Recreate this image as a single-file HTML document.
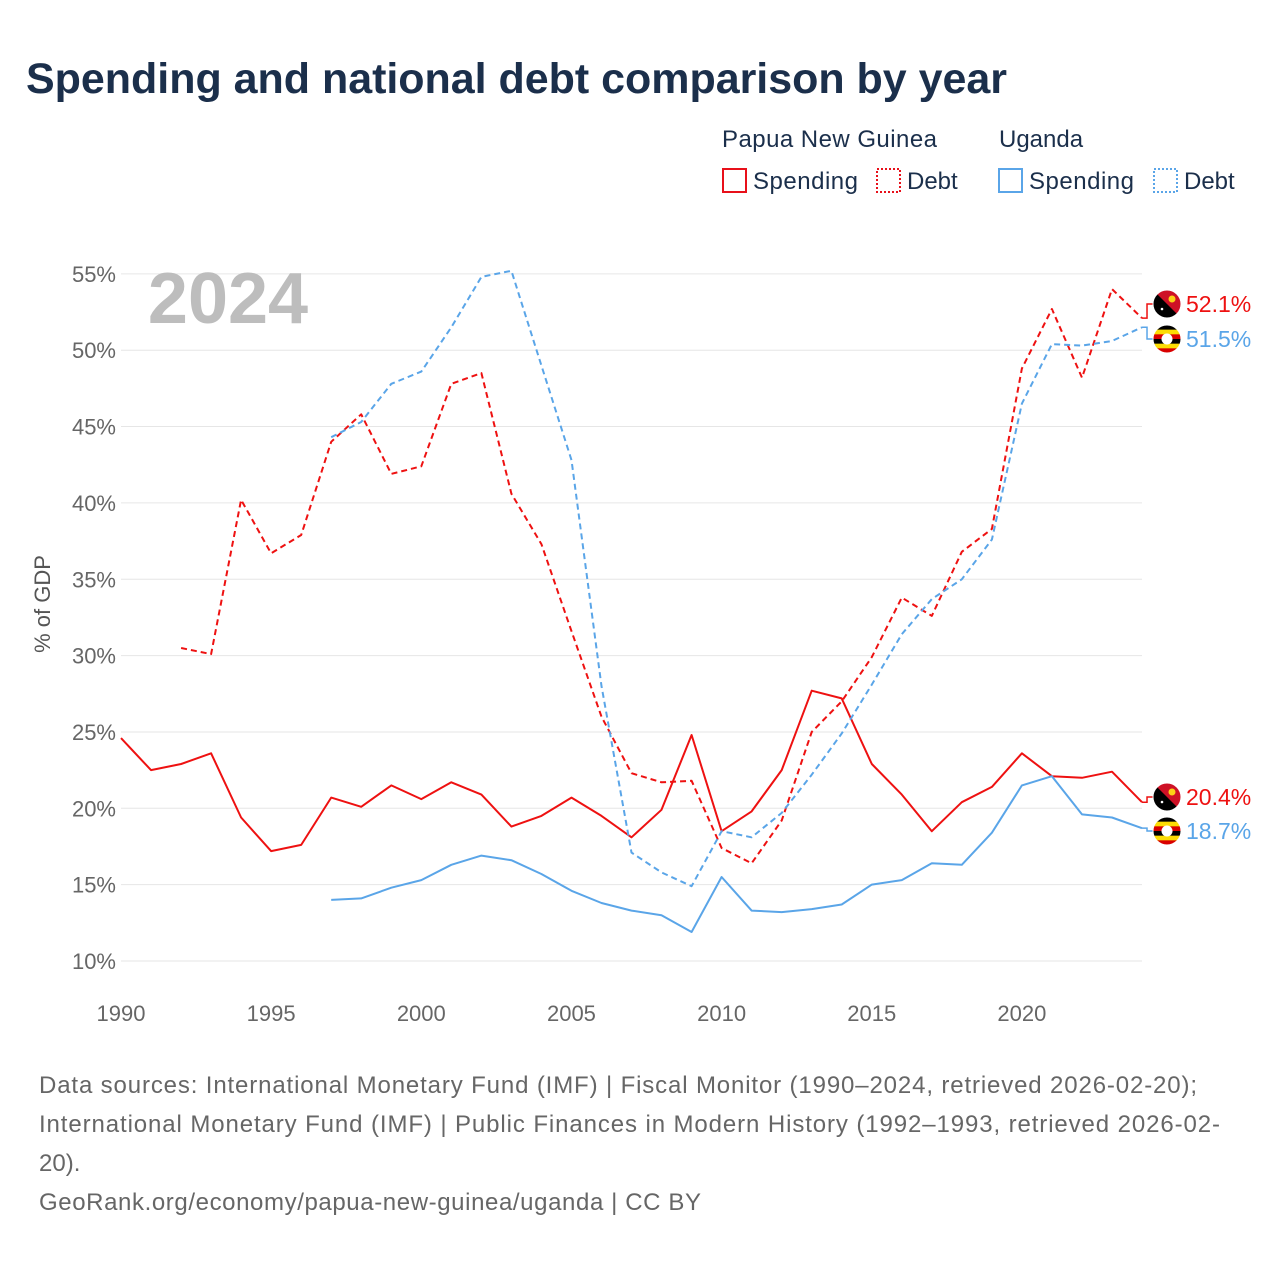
<!DOCTYPE html>
<html><head><meta charset="utf-8">
<style>
body{margin:0;background:#fff;width:1280px;height:1280px;overflow:hidden;font-family:"Liberation Sans",sans-serif}
svg text{font-family:"Liberation Sans",sans-serif}
</style></head>
<body>
<svg id="chart" width="1280" height="1280" viewBox="0 0 1280 1280">
<text x="26" y="93" font-size="43" font-weight="bold" fill="#1b2f4b" textLength="981">Spending and national debt comparison by year</text>
<g font-size="24" fill="#1b2f4b">
<text x="722" y="147" fill="#1b2f4b" textLength="215">Papua New Guinea</text>
<text x="999" y="147" fill="#1b2f4b">Uganda</text>
<g><rect x="723" y="169" width="23" height="23" fill="none" stroke="#e8101a" stroke-width="2"/><text x="753" y="189" fill="#1b2f4b" textLength="105">Spending</text></g>
<g><rect x="877" y="169" width="23" height="23" fill="none" stroke="#e8101a" stroke-width="2" stroke-dasharray="2,2"/><text x="907" y="189" fill="#1b2f4b">Debt</text></g>
<g><rect x="999" y="169" width="23" height="23" fill="none" stroke="#5aa5e8" stroke-width="2"/><text x="1029" y="189" fill="#1b2f4b" textLength="105">Spending</text></g>
<g><rect x="1154" y="169" width="23" height="23" fill="none" stroke="#5aa5e8" stroke-width="2" stroke-dasharray="2,2"/><text x="1184" y="189" fill="#1b2f4b">Debt</text></g>
</g>
<g id="grid"></g>
<g id="yticks"></g>
<g id="xticks"></g>
<text x="228" y="323" font-size="72" font-weight="bold" fill="#bdbdbd" text-anchor="middle">2024</text>
<text transform="translate(50,604) rotate(-90)" font-size="22" fill="#555" text-anchor="middle">% of GDP</text>
<g id="series"></g>
<g id="endlabels"></g>
<g font-size="24" fill="#666">
<text x="39" y="1093" textLength="1158">Data sources: International Monetary Fund (IMF) | Fiscal Monitor (1990–2024, retrieved 2026-02-20);</text>
<text x="39" y="1132" textLength="1181">International Monetary Fund (IMF) | Public Finances in Modern History (1992–1993, retrieved 2026-02-</text>
<text x="39" y="1171">20).</text>
<text x="39" y="1210" textLength="662">GeoRank.org/economy/papua-new-guinea/uganda | CC BY</text>
</g>
</svg>
<script>
const yTicks=[10,15,20,25,30,35,40,45,50,55];
const xTicks=[1990,1995,2000,2005,2010,2015,2020];
const pngSpendYears=[1990,1991,1992,1993,1994,1995,1996,1997,1998,1999,2000,2001,2002,2003,2004,2005,2006,2007,2008,2009,2010,2011,2012,2013,2014,2015,2016,2017,2018,2019,2020,2021,2022,2023,2024];
const pngSpend=[24.6,22.5,22.9,23.6,19.4,17.2,17.6,20.7,20.1,21.5,20.6,21.7,20.9,18.8,19.5,20.7,19.5,18.1,19.9,24.8,18.5,19.8,22.5,27.7,27.2,22.9,20.9,18.5,20.4,21.4,23.6,22.1,22.0,22.4,20.4];
const pngDebtYears=[1992,1993,1994,1995,1996,1997,1998,1999,2000,2001,2002,2003,2004,2005,2006,2007,2008,2009,2010,2011,2012,2013,2014,2015,2016,2017,2018,2019,2020,2021,2022,2023,2024];
const pngDebt=[30.5,30.1,40.2,36.7,37.9,44.0,45.8,41.9,42.4,47.8,48.5,40.6,37.3,31.6,26.0,22.3,21.7,21.8,17.4,16.4,19.2,25.0,27.0,29.9,33.8,32.6,36.8,38.3,48.8,52.7,48.2,54.0,52.1];
const ugaYears=[1997,1998,1999,2000,2001,2002,2003,2004,2005,2006,2007,2008,2009,2010,2011,2012,2013,2014,2015,2016,2017,2018,2019,2020,2021,2022,2023,2024];
const ugaSpend=[14.0,14.1,14.8,15.3,16.3,16.9,16.6,15.7,14.6,13.8,13.3,13.0,11.9,15.5,13.3,13.2,13.4,13.7,15.0,15.3,16.4,16.3,18.4,21.5,22.1,19.6,19.4,18.7];
const ugaDebt=[44.3,45.3,47.8,48.6,51.5,54.8,55.2,49.0,42.8,28.0,17.1,15.8,14.9,18.5,18.1,19.7,22.2,24.9,28.1,31.4,33.7,35.0,37.6,46.5,50.4,50.3,50.6,51.5];

const NS='http://www.w3.org/2000/svg';
const X=y=>121+(y-1990)*30.03;
const Y=v=>961-(v-10)*15.27;
function mk(t,a,p){const e=document.createElementNS(NS,t);for(const k in a)e.setAttribute(k,a[k]);p.appendChild(e);return e;}
const grid=document.getElementById('grid'),yt=document.getElementById('yticks'),xt=document.getElementById('xticks');
yTicks.forEach(v=>{
  const l=mk('line',{x1:121,x2:1142,y1:Y(v),y2:Y(v),stroke:'#e6e6e6','stroke-width':1},grid);
  
  
  const t=mk('text',{x:116,y:Y(v)+8,'font-size':22,fill:'#666','text-anchor':'end'},yt);
  t.textContent=v+'%';
  
  
});
xTicks.forEach(v=>{
  const t=mk('text',{x:X(v),y:1021,'font-size':22,fill:'#666','text-anchor':'middle'},xt);
  t.textContent=v;
  
  
});
const ser=document.getElementById('series');
function line(yrs,vals,color,dash,name){
  const d=yrs.map((y,i)=>(i?'L':'M')+X(y).toFixed(1)+','+Y(vals[i]).toFixed(1)).join('');
  const p=mk('path',{d:d,fill:'none',stroke:color,'stroke-width':2,'stroke-dasharray':dash,'stroke-linejoin':'round'},ser);
  
  
}
const RED='#ee1111',BLUE='#5aa5e8';
line(pngSpendYears,pngSpend,RED,'none','line-png-spending');
line(pngDebtYears,pngDebt,RED,'6,4','line-png-debt');
line(ugaYears,ugaSpend,BLUE,'none','line-uganda-spending');
line(ugaYears,ugaDebt,BLUE,'6,4','line-uganda-debt');

const el=document.getElementById('endlabels');
function endLabel(val,ly,color,flag,name){
  const g=mk('g',{},el);
  
  
  const x0=X(2024),y0=Y(val);
  mk('polyline',{points:`${x0},${y0} ${x0+5},${y0} ${x0+5},${ly} ${1153},${ly}`,fill:'none',stroke:color,'stroke-width':1.5},g);
  const cx=1167;
  const cp=mk('clipPath',{id:'c'+name},g);
  mk('circle',{cx:cx,cy:ly,r:14},cp);
  const fg=mk('g',{'clip-path':`url(#c${name})`},g);
  if(flag==='png'){
    mk('rect',{x:cx-14,y:ly-14,width:28,height:28,fill:'#000'},fg);
    mk('path',{d:`M${cx-14},${ly-14}L${cx+14},${ly-14}L${cx+14},${ly+14}Z`,fill:'#ce1126'},fg);
    mk('circle',{cx:cx+5,cy:ly-5,r:3.5,fill:'#fcd116'},fg);
    mk('circle',{cx:cx-5,cy:ly+5,r:1.3,fill:'#fff'},fg);
  }else{
    const cols=['#000','#fcdc04','#d90000','#000','#fcdc04','#d90000'];
    cols.forEach((c,i)=>{mk('rect',{x:cx-14,y:ly-14+i*28/6,width:28,height:28/6+0.3,fill:c},fg);});
    mk('circle',{cx:cx,cy:ly,r:5.5,fill:'#fff'},fg);
  }
  mk('circle',{cx:cx,cy:ly,r:14,fill:'none',stroke:'#fff','stroke-width':1},g);
  const t=mk('text',{x:1186,y:ly+8,'font-size':23,fill:color},g);
  t.textContent=val.toFixed(1)+'%';
}
endLabel(pngDebt[pngDebt.length-1],304,RED,'png','end-label-png-debt');
endLabel(ugaDebt[ugaDebt.length-1],339,BLUE,'uga','end-label-uganda-debt');
endLabel(pngSpend[pngSpend.length-1],797,RED,'png','end-label-png-spending');
endLabel(ugaSpend[ugaSpend.length-1],831,BLUE,'uga','end-label-uganda-spending');
</script>
</body></html>
